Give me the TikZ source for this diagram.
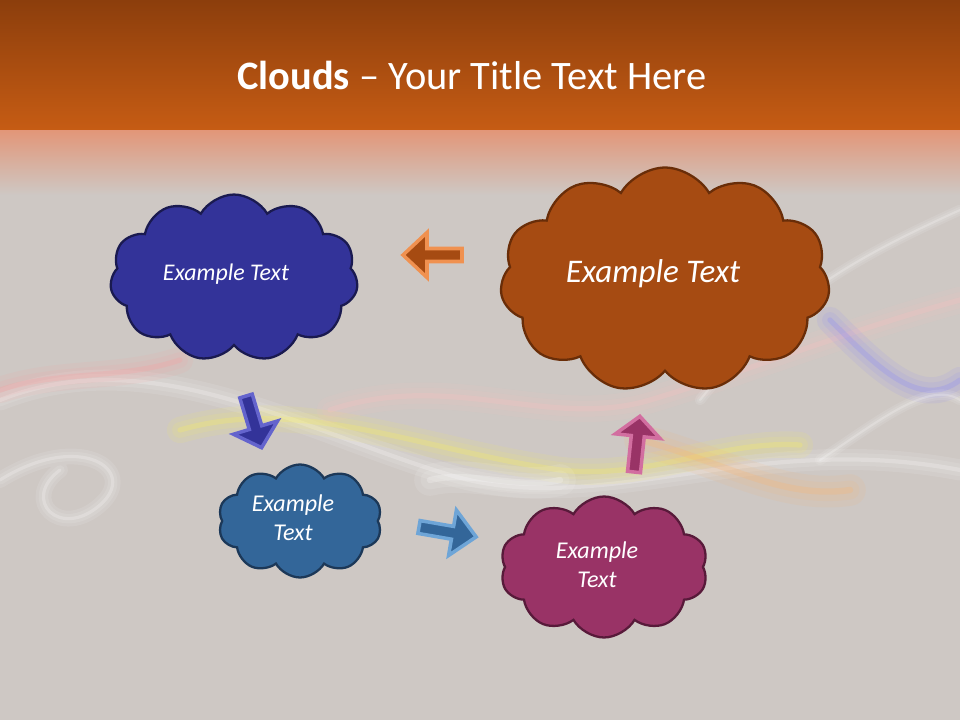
\documentclass[tikz,border=0pt]{standalone}
\usepackage{fontspec}
\setmainfont{Carlito}
\usetikzlibrary{shapes.symbols}
\definecolor{bgray}{RGB}{206,200,196}
\definecolor{topA}{RGB}{140,62,12}
\definecolor{topB}{RGB}{198,92,20}
\definecolor{salmon}{RGB}{226,150,120}
\definecolor{cBlue}{RGB}{51,51,153}
\definecolor{cBlueD}{RGB}{26,26,80}
\definecolor{cBlueL}{RGB}{100,100,205}
\definecolor{cBrown}{RGB}{166,75,18}
\definecolor{cBrownD}{RGB}{105,45,8}
\definecolor{cBrownL}{RGB}{240,145,80}
\definecolor{cSteel}{RGB}{51,102,153}
\definecolor{cSteelD}{RGB}{28,56,88}
\definecolor{cSteelL}{RGB}{110,165,215}
\definecolor{cMag}{RGB}{153,51,102}
\definecolor{cMagD}{RGB}{88,26,58}
\definecolor{cMagL}{RGB}{210,110,160}
\tikzset{
  cloudbox/.style={cloud, cloud puffs=#1, cloud puff arc=120, draw, line width=1.3pt, inner sep=0pt},
  cloudtext/.style={text=white, font=\itshape, align=center},
  blockarrow/.style={line width=2pt, line join=miter},
  wisp/.style={line cap=round, opacity=0.10},
  wispcore/.style={line cap=round, opacity=0.22}
}
\newcommand\myarrow[9]{% x,y,angle,L,h,w,hl,fill,draw
  \begin{scope}[shift={(#1,#2)},rotate=#3]
    \draw[blockarrow,fill=#8,draw=#9] (0,-#6/2) -- (#4-#7,-#6/2) -- (#4-#7,-#5/2) -- (#4,0) -- (#4-#7,#5/2) -- (#4-#7,#6/2) -- (0,#6/2) -- cycle;
  \end{scope}}
\newcommand\smoke[3]{% colour, width, path
  \draw[wisp,#1,line width=#2*3pt] #3;
  \draw[wisp,#1,line width=#2*1.8pt] #3;
  \draw[wispcore,#1,line width=#2*0.6pt] #3;}
\begin{document}
\begin{tikzpicture}[x=0.02cm,y=-0.02cm]
\useasboundingbox (0,0) rectangle (960,720);
% background
\fill[bgray] (0,0) rectangle (960,720);
\shade[top color=topA, bottom color=topB] (0,0) rectangle (960,130);
\shade[top color=salmon, bottom color=bgray] (0,130) rectangle (960,195);
% smoke wisps
\smoke{white}{4}{(0,400) .. controls (150,340) and (300,430) .. (450,475) .. controls (600,520) and (750,430) .. (960,470)}
\smoke{yellow!70!white}{5}{(180,430) .. controls (300,395) and (420,450) .. (560,470) .. controls (650,480) and (720,440) .. (800,445)}
\smoke{white}{3}{(0,480) .. controls (80,430) and (140,470) .. (100,505) .. controls (60,540) and (20,500) .. (60,470)}
\smoke{pink}{5}{(330,410) .. controls (450,370) and (550,430) .. (650,400) .. controls (750,370) and (850,330) .. (960,300)}
\smoke{white}{2}{(700,400) .. controls (780,300) and (850,260) .. (960,210)}
\smoke{blue!50!white}{5}{(830,320) .. controls (880,370) and (920,410) .. (960,380)}
\smoke{white}{2}{(820,460) .. controls (880,420) and (930,380) .. (960,400)}
\smoke{orange!60!white}{6}{(640,440) .. controls (720,460) and (780,500) .. (850,490)}
\smoke{white}{6}{(430,480) .. controls (470,470) and (520,490) .. (560,480)}
\smoke{red!40!white}{5}{(0,390) .. controls (60,370) and (120,380) .. (180,360)}
% clouds
\node[cloudbox=11, fill=cBlue, draw=cBlueD, minimum width=4.96cm, minimum height=3.34cm, aspect=1.5] (blue) at (234,278) {};
\node[cloudbox=11, fill=cBrown, draw=cBrownD, minimum width=6.6cm, minimum height=4.5cm, aspect=1.47] (brown) at (665,280) {};
\node[cloudbox=10, fill=cSteel, draw=cSteelD, minimum width=3.28cm, minimum height=2.26cm, aspect=1.45] (steel) at (300,521) {};
\node[cloudbox=10, fill=cMag, draw=cMagD, minimum width=4.16cm, minimum height=2.82cm, aspect=1.47] (mag) at (604,567) {};
% texts
\node[cloudtext, font=\itshape\fontsize{13.6}{16}\selectfont] (tblue) at (226,274) {Example Text};
\node[cloudtext, font=\itshape\fontsize{18.8}{22}\selectfont] (tbrown) at (653,274) {Example Text};
\node[cloudtext, font=\itshape\fontsize{13.7}{16.5}\selectfont] (tsteel) at (293,518) {Example\\Text};
\node[cloudtext, font=\itshape\fontsize{13.7}{16.5}\selectfont] (tmag) at (597,565) {Example\\Text};
% arrows
\myarrow{462}{255}{180}{59}{45}{13}{24}{cBrown}{cBrownL}
\myarrow{246}{396}{-73.2}{54}{46}{13}{21}{cBlue}{cBlueL}
\myarrow{419}{527}{-9.8}{58}{46}{13}{24}{cSteel}{cSteelL}
\myarrow{634}{472}{84}{56}{45}{13}{20}{cMag}{cMagL}
% title
\node[text=white, font=\fontsize{23}{28}\selectfont] (title) at (472,75) {\textbf{Clouds} – Your Title Text Here};
\end{tikzpicture}
\end{document}
